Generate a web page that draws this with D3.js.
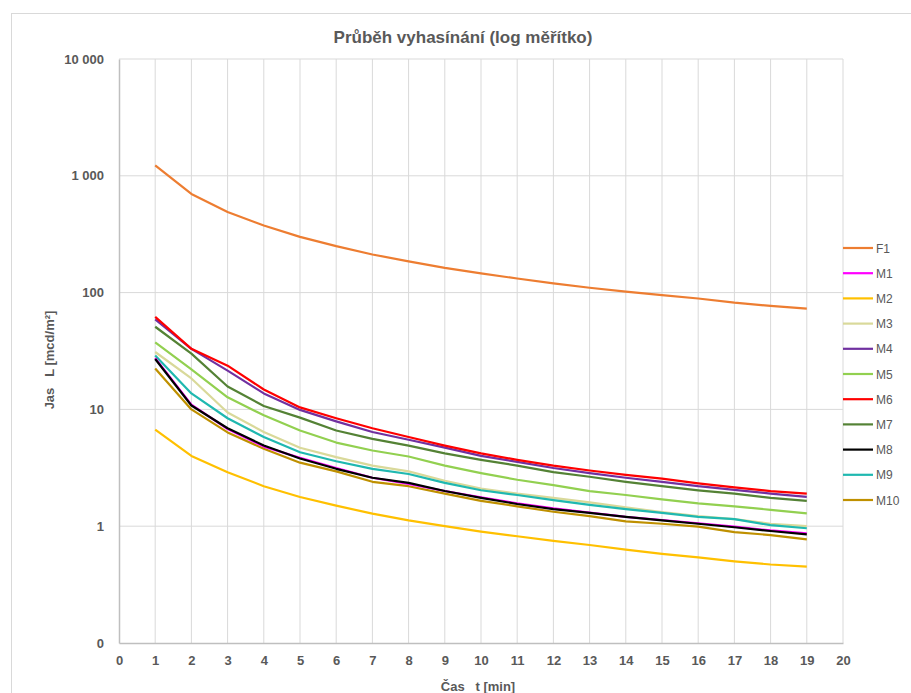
<!DOCTYPE html>
<html>
<head>
<meta charset="utf-8">
<script src="https://cdn.jsdelivr.net/npm/d3@7"></script>
<style>
  body { margin: 0; background: #fff; }
  svg { font-family: "Liberation Sans", Arial, sans-serif; }
</style>
</head>
<body>
<div id="chart"></div>
<script>
// time points (min)
const times = [1, 2, 3, 4, 5, 6, 7, 8, 9, 10, 11, 12, 13, 14, 15, 16, 17, 18, 19];

const seriesNames = ['F1', 'M1', 'M2', 'M3', 'M4', 'M5', 'M6', 'M7', 'M8', 'M9', 'M10'];
const seriesColors = ['#ED7D31', '#FF00FF', '#FFC000', '#D9D99A', '#7030A0', '#92D050',
  '#FF0000', '#548235', '#000000', '#1FB8B0', '#BF9000'];

// luminance values, mcd/m²
const F1 = [1230, 700, 490, 375, 300, 250, 212, 185, 163, 146, 132, 120, 110, 102, 95, 89, 82, 77, 73];
const M1 = [27.5, 11, 6.8, 4.8, 3.85, 3.15, 2.6, 2.3, 2.0, 1.77, 1.57, 1.42, 1.31, 1.2, 1.13, 1.06, 0.99, 0.92, 0.87];
const M2 = [6.7, 4.0, 2.9, 2.2, 1.78, 1.5, 1.28, 1.12, 1.0, 0.9, 0.82, 0.75, 0.69, 0.63, 0.58, 0.54, 0.5, 0.47, 0.45];
const M3 = [31, 18.4, 9.4, 6.4, 4.7, 3.9, 3.3, 2.95, 2.45, 2.1, 1.9, 1.75, 1.6, 1.45, 1.32, 1.22, 1.15, 1.05, 1.0];
const M4 = [59, 33, 21.5, 13.7, 9.9, 7.9, 6.4, 5.5, 4.7, 4.0, 3.55, 3.15, 2.85, 2.6, 2.4, 2.2, 2.05, 1.9, 1.78];
const M5 = [37.5, 22, 12.7, 8.9, 6.6, 5.2, 4.45, 3.95, 3.3, 2.85, 2.5, 2.25, 2.0, 1.85, 1.7, 1.57, 1.48, 1.38, 1.29];
const M6 = [62, 33, 23.7, 14.8, 10.4, 8.4, 6.9, 5.8, 4.9, 4.2, 3.7, 3.3, 3.0, 2.75, 2.55, 2.33, 2.15, 2.0, 1.9];
const M7 = [51, 30, 15.7, 10.7, 8.5, 6.6, 5.6, 4.9, 4.2, 3.7, 3.3, 2.9, 2.65, 2.4, 2.2, 2.03, 1.9, 1.75, 1.65];
const M8 = [27, 10.8, 6.9, 4.9, 3.8, 3.1, 2.6, 2.35, 2.0, 1.75, 1.55, 1.4, 1.3, 1.2, 1.12, 1.05, 0.98, 0.91, 0.85];
const M9 = [29, 13.7, 8.4, 5.8, 4.3, 3.6, 3.1, 2.8, 2.35, 2.03, 1.85, 1.67, 1.52, 1.4, 1.3, 1.2, 1.15, 1.02, 0.96];
const M10 = [22.4, 10.0, 6.35, 4.6, 3.5, 2.95, 2.4, 2.2, 1.9, 1.65, 1.48, 1.33, 1.22, 1.1, 1.05, 0.99, 0.89, 0.84, 0.77];

const seriesValues = [F1, M1, M2, M3, M4, M5, M6, M7, M8, M9, M10];

const yTicks = [0.1, 1, 10, 100, 1000, 10000];
const yTickLabels = ['0', '1', '10', '100', '1 000', '10 000'];
const xTicks = d3.range(0, 21);

const W = 911, H = 693;
const margin = { left: 119, right: 68, top: 59, bottom: 50 };
const textColor = '#595959';
const gridColor = '#D9D9D9';

const svg = d3.select('#chart').append('svg')
  .attr('width', W).attr('height', H);

// chart frame
svg.append('rect')
  .attr('x', 11.5).attr('y', 13.5)
  .attr('width', W + 10).attr('height', H + 10)
  .attr('fill', 'none').attr('stroke', '#D9D9D9');

const x = d3.scaleLinear().domain([0, 20]).range([margin.left, W - margin.right]);
const y = d3.scaleLog().domain([0.1, 10000]).range([H - margin.bottom, margin.top]);

// gridlines
svg.append('g')
  .selectAll('line.v')
  .data(xTicks.slice(1))
  .enter().append('line')
  .attr('x1', d => x(d)).attr('x2', d => x(d))
  .attr('y1', y(10000)).attr('y2', y(0.1))
  .attr('stroke', gridColor).attr('stroke-width', 1);

svg.append('g')
  .selectAll('line.h')
  .data(yTicks.slice(1))
  .enter().append('line')
  .attr('x1', x(0)).attr('x2', x(20))
  .attr('y1', d => y(d)).attr('y2', d => y(d))
  .attr('stroke', gridColor).attr('stroke-width', 1);

// axes
const xAxis = svg.append('g')
  .attr('transform', `translate(0, ${y(0.1)})`)
  .call(d3.axisBottom(x).tickValues(xTicks).tickSize(0).tickPadding(13));
xAxis.select('.domain').attr('stroke', '#BFBFBF').attr('stroke-width', 1.5);

const yAxis = svg.append('g')
  .attr('transform', `translate(${x(0)}, 0)`)
  .call(d3.axisLeft(y).tickValues(yTicks).tickFormat((d, i) => yTickLabels[i]).tickSize(0).tickPadding(15));
yAxis.select('.domain').attr('stroke', '#BFBFBF').attr('stroke-width', 1.5);

svg.selectAll('.tick text')
  .attr('fill', textColor)
  .style('font-size', '13px')
  .style('font-weight', 'bold');

// lines
const line = d3.line()
  .x((d, i) => x(times[i]))
  .y(d => y(d));

const drawOrder = [0, 2, 3, 5, 7, 4, 6, 9, 10, 1, 8];
drawOrder.forEach(i => {
  svg.append('path')
    .datum(seriesValues[i])
    .attr('fill', 'none')
    .attr('stroke', seriesColors[i])
    .attr('stroke-width', 2.2)
    .attr('stroke-linejoin', 'round')
    .attr('d', line);
});

// title
svg.append('text')
  .attr('x', 463).attr('y', 43)
  .attr('text-anchor', 'middle')
  .attr('fill', textColor)
  .style('font-size', '17px')
  .style('font-weight', 'bold')
  .text('Průběh vyhasínání (log měřítko)');

// axis titles
svg.append('text')
  .attr('transform', 'translate(54, 360) rotate(-90)')
  .attr('text-anchor', 'middle')
  .attr('fill', textColor)
  .style('font-size', '13px')
  .style('font-weight', 'bold')
  .attr('xml:space', 'preserve')
  .text('Jas   L [mcd/m²]');

svg.append('text')
  .attr('x', 478).attr('y', 691)
  .attr('text-anchor', 'middle')
  .attr('fill', textColor)
  .style('font-size', '13px')
  .style('font-weight', 'bold')
  .attr('xml:space', 'preserve')
  .text('Čas   t [min]');

// legend
const legend = svg.append('g');
seriesNames.forEach((name, i) => {
  const ly = 248 + i * 25.2;
  legend.append('line')
    .attr('x1', 843).attr('x2', 873)
    .attr('y1', ly).attr('y2', ly)
    .attr('stroke', seriesColors[i]).attr('stroke-width', 2.2);
  legend.append('text')
    .attr('x', 876).attr('y', ly + 4.5)
    .attr('fill', textColor)
    .style('font-size', '12px')
    .text(name);
});
</script>
</body>
</html>
